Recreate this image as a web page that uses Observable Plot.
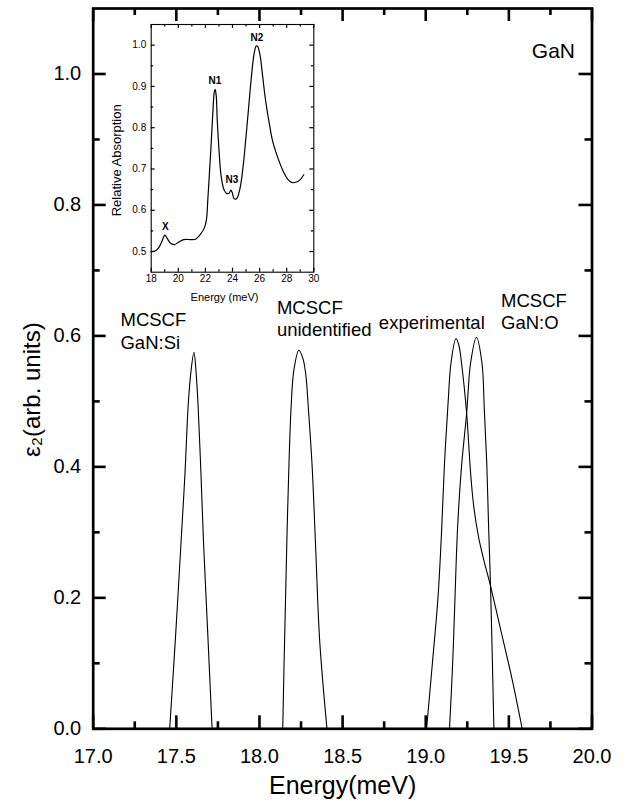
<!DOCTYPE html>
<html><head><meta charset="utf-8">
<script src="https://cdn.jsdelivr.net/npm/d3@7"></script>
<script src="https://cdn.jsdelivr.net/npm/@observablehq/plot@0.6"></script>
<style>
body{margin:0;background:#fff;}
#wrap{position:relative;width:636px;height:804px;overflow:hidden;}
#inset{position:absolute;left:95px;top:0;}
</style></head><body><div id="wrap"></div>
<script>
// ---- main panel data (Energy in meV, epsilon2 in arb. units) ----
const siE  = [17.46, 17.495, 17.529, 17.552, 17.571, 17.587, 17.606, 17.619, 17.631, 17.648, 17.663, 17.69, 17.715];
const siV  = [0, 0.14, 0.288, 0.39, 0.4926, 0.5436, 0.575, 0.5436, 0.4926, 0.39, 0.288, 0.14, 0];
const unE  = [18.14, 18.148, 18.157, 18.166, 18.177, 18.19, 18.207, 18.237, 18.262, 18.279, 18.294, 18.317, 18.339, 18.362, 18.406];
const unV  = [0, 0.1, 0.2, 0.3, 0.4, 0.49, 0.548, 0.578, 0.565, 0.54, 0.49, 0.40, 0.27, 0.135, 0];
const expE = [19.005, 19.04, 19.074, 19.095, 19.113, 19.135, 19.152, 19.182, 19.2, 19.215, 19.246, 19.27, 19.289, 19.317, 19.35, 19.385, 19.442, 19.52, 19.58];
const expV = [0, 0.1, 0.2015, 0.3, 0.406, 0.5, 0.559, 0.596, 0.585, 0.559, 0.482, 0.39, 0.339, 0.294, 0.257, 0.223, 0.161, 0.075, 0];
const oE   = [19.143, 19.162, 19.176, 19.191, 19.215, 19.246, 19.27, 19.305, 19.338, 19.352, 19.367, 19.378, 19.39, 19.41];
const oV   = [0, 0.1, 0.2, 0.304, 0.40, 0.482, 0.559, 0.598, 0.559, 0.49, 0.406, 0.31, 0.216, 0];

const xMajor = [17, 17.5, 18, 18.5, 19, 19.5, 20];
const xMinor = [17.25, 17.75, 18.25, 18.75, 19.25, 19.75];
const yMajor = [0, 0.2, 0.4, 0.6, 0.8, 1.0];
const yMinor = [0.1, 0.3, 0.5, 0.7, 0.9];

const labelText = ["MCSCF\nGaN:Si", "MCSCF\nunidentified", "experimental", "MCSCF\nGaN:O"];
const labelE    = [17.164, 18.105, 18.718, 19.453];
const labelV    = [0.6085, 0.627, 0.621, 0.638];

// ---- inset data (Energy in meV, relative absorption) ----
const inE = [18.0, 18.32, 18.57, 18.81, 19.0, 19.18, 19.43, 19.72, 20.04, 20.41, 20.9, 21.27, 21.64, 21.93, 22.08, 22.18, 22.3, 22.43, 22.55, 22.65, 22.72, 22.8, 22.87, 23.0, 23.16, 23.36, 23.56, 23.75, 23.88, 23.98, 24.1, 24.25, 24.39, 24.59, 24.79, 24.98, 25.18, 25.38, 25.57, 25.75, 25.85, 26.02, 26.22, 26.43, 26.68, 26.93, 27.17, 27.47, 27.79, 28.08, 28.4, 28.77, 29.02, 29.26];
const inA = [0.50, 0.502, 0.51, 0.526, 0.540, 0.532, 0.52, 0.517, 0.523, 0.529, 0.529, 0.530, 0.542, 0.558, 0.578, 0.627, 0.691, 0.764, 0.837, 0.885, 0.893, 0.877, 0.821, 0.748, 0.683, 0.651, 0.641, 0.641, 0.649, 0.643, 0.629, 0.627, 0.633, 0.659, 0.708, 0.772, 0.845, 0.918, 0.974, 0.998, 0.997, 0.978, 0.926, 0.869, 0.817, 0.772, 0.744, 0.716, 0.691, 0.675, 0.667, 0.669, 0.675, 0.686];
const inXMajor = [18, 20, 22, 24, 26, 28, 30];
const inXMinor = [19, 21, 23, 25, 27, 29];
const inYMajor = [0.5, 0.6, 0.7, 0.8, 0.9, 1.0];
const inYMinor = [0.55, 0.65, 0.75, 0.85, 0.95];
const peakText = ["X", "N1", "N3", "N2"];
const peakE    = [19.05, 22.7, 23.95, 25.8];
const peakA    = [0.559, 0.913, 0.675, 1.018];

const FONT = '"Liberation Sans", Arial, Helvetica, sans-serif';

const rows = [
  ...siE.map((e, i) => ({series: "GaN:Si", E: e, V: siV[i]})),
  ...unE.map((e, i) => ({series: "unidentified", E: e, V: unV[i]})),
  ...expE.map((e, i) => ({series: "experimental", E: e, V: expV[i]})),
  ...oE.map((e, i) => ({series: "GaN:O", E: e, V: oV[i]}))
];
const labels = labelText.map((t, i) => ({t, E: labelE[i], V: labelV[i]}));
const insetRows = inE.map((e, i) => ({E: e, A: inA[i]}));
const peaks = peakText.map((t, i) => ({t, E: peakE[i], A: peakA[i]}));

const fmt1 = d3.format(".1f");

// inward ticks on all four sides; stub lengths given in pixels, converted to data units
function inwardTicks(xs, xMin, ys, yMin, xDom, yDom, W, H, maj, min, sw) {
  const id = d => d;
  const kx = (xDom[1] - xDom[0]) / W, ky = (yDom[1] - yDom[0]) / H;
  const o = {strokeWidth: sw, stroke: "black"};
  const marks = [];
  for (const [vals, len] of [[xs, maj], [xMin, min]]) {
    marks.push(Plot.ruleX(vals, {x: id, y1: yDom[0], y2: yDom[0] + len * ky, ...o}));
    marks.push(Plot.ruleX(vals, {x: id, y1: yDom[1] - len * ky, y2: yDom[1], ...o}));
  }
  for (const [vals, len] of [[ys, maj], [yMin, min]]) {
    marks.push(Plot.ruleY(vals, {y: id, x1: xDom[0], x2: xDom[0] + len * kx, ...o}));
    marks.push(Plot.ruleY(vals, {y: id, x1: xDom[1] - len * kx, x2: xDom[1], ...o}));
  }
  return marks;
}

const M = {w: 636, h: 804, l: 92.7, r: 44.5, t: 8, b: 75.7};
const mainW = M.w - M.l - M.r, mainH = M.h - M.t - M.b;
const mainX = [17, 20], mainY = [0, 1.1];

const main = Plot.plot({
  width: M.w, height: M.h,
  marginLeft: M.l, marginRight: M.r, marginTop: M.t, marginBottom: M.b,
  x: {domain: mainX},
  y: {domain: mainY},
  style: {fontFamily: FONT, background: "white", color: "black"},
  marks: [
    Plot.axisX({ticks: xMajor, tickSize: 0, tickPadding: 20, tickFormat: fmt1, fontSize: 20, label: null}),
    Plot.axisY({ticks: yMajor, tickSize: 0, tickPadding: 12, tickFormat: fmt1, fontSize: 20, label: null}),
    ...inwardTicks(xMajor, xMinor, yMajor, yMinor, mainX, mainY, mainW, mainH, 13, 7, 2.6),
    Plot.frame({strokeWidth: 2.7}),
    Plot.line(rows, {x: "E", y: "V", z: "series", curve: "catmull-rom", stroke: "black", strokeWidth: 1.1}),
    Plot.text(labels, {x: "E", y: "V", text: "t", textAnchor: "start", lineAnchor: "middle", lineHeight: 1.2, fontSize: 18.5}),
    Plot.text(["GaN"], {frameAnchor: "top-right", dx: -17, dy: 43, textAnchor: "end", lineAnchor: "middle", fontSize: 21}),
    Plot.text(["Energy(meV)"], {frameAnchor: "bottom", dy: 57, textAnchor: "middle", lineAnchor: "middle", fontSize: 25}),
    Plot.text(["ε₂(arb. units)"], {frameAnchor: "left", dx: -61, dy: 21, rotate: -90, textAnchor: "middle", lineAnchor: "middle", fontSize: 24})
  ]
});

const I = {w: 240, h: 310, l: 55.7, r: 21.7, t: 24, b: 38.3};
const inW = I.w - I.l - I.r, inH = I.h - I.t - I.b;
const inXDom = [18, 30], inYDom = [0.45, 1.05];

const inset = Plot.plot({
  width: I.w, height: I.h,
  marginLeft: I.l, marginRight: I.r, marginTop: I.t, marginBottom: I.b,
  x: {domain: inXDom},
  y: {domain: inYDom},
  style: {fontFamily: FONT, background: "transparent", color: "black"},
  marks: [
    Plot.axisX({ticks: inXMajor, tickSize: 0, tickPadding: 3, fontSize: 10, label: null}),
    Plot.axisY({ticks: inYMajor, tickSize: 0, tickPadding: 5, tickFormat: fmt1, fontSize: 10, label: null}),
    ...inwardTicks(inXMajor, inXMinor, inYMajor, inYMinor, inXDom, inYDom, inW, inH, 4, 2.5, 1.2),
    Plot.frame({strokeWidth: 1.1}),
    Plot.line(insetRows, {x: "E", y: "A", curve: "catmull-rom", stroke: "black", strokeWidth: 1.2}),
    Plot.text(peaks, {x: "E", y: "A", text: "t", fontSize: 10, fontWeight: "bold"}),
    Plot.text(["Energy (meV)"], {frameAnchor: "bottom", dx: -8, dy: 25, textAnchor: "middle", lineAnchor: "middle", fontSize: 11}),
    Plot.text(["Relative Absorption"], {frameAnchor: "left", dx: -34, dy: 12, rotate: -90, textAnchor: "middle", lineAnchor: "middle", fontSize: 13})
  ]
});
inset.id = "inset";

const wrap = document.getElementById("wrap");
wrap.appendChild(main);
wrap.appendChild(inset);
</script></body></html>
